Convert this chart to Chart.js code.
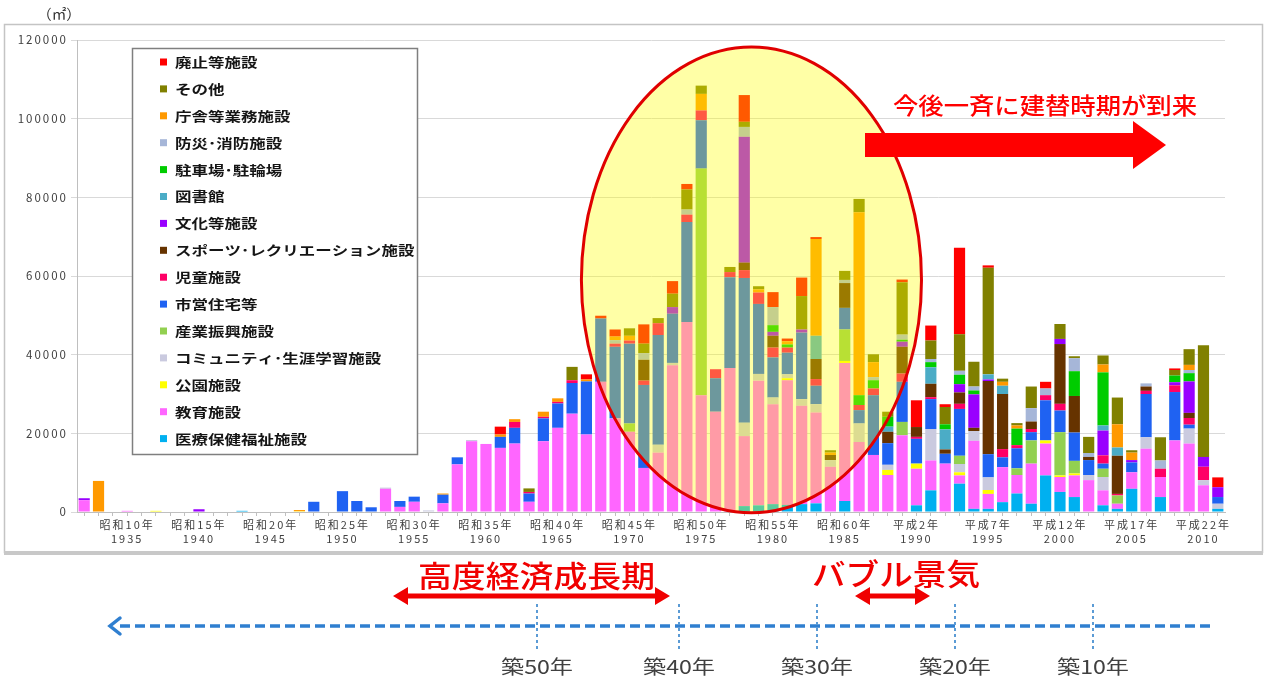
<!DOCTYPE html>
<html><head><meta charset="utf-8">
<script src="https://cdn.jsdelivr.net/npm/chart.js@4/dist/chart.umd.min.js"></script>
<style>html,body{margin:0;padding:0;background:#fff;}canvas{display:block;}</style>
</head><body>
<canvas id="c" width="1269" height="680"></canvas>
<script>
const years = [1932,1933,1934,1935,1936,1937,1938,1939,1940,1941,
1942,1943,1944,1945,1946,1947,1948,1949,1950,1951,
1952,1953,1954,1955,1956,1957,1958,1959,1960,1961,
1962,1963,1964,1965,1966,1967,1968,1969,1970,1971,
1972,1973,1974,1975,1976,1977,1978,1979,1980,1981,
1982,1983,1984,1985,1986,1987,1988,1989,1990,1991,
1992,1993,1994,1995,1996,1997,1998,1999,2000,2001,
2002,2003,2004,2005,2006,2007,2008,2009,2010,2011];
const tickYears = [1935,1940,1945,1950,1955,1960,1965,1970,1975,1980,1985,1990,1995,2000,2005,2010];
const tickEras = ['昭和10年','昭和15年','昭和20年','昭和25年','昭和30年','昭和35年','昭和40年','昭和45年','昭和50年','昭和55年','昭和60年','平成2年','平成7年','平成12年','平成17年','平成22年'];
const yTicks = [0,20000,40000,60000,80000,100000,120000];

const iryo = [0,0,0,0,0,0,0,0,0,0, 0,300,0,0,0,0,0,0,0,0, 0,0,0,0,0,0,0,0,0,0, 0,0,0,0,0,0,0,0,0,0,
 0,0,0,0,0,0,1500,1700,2000,1800, 2000,2200,0,2800,0,0,0,0,1700,5500, 0,7200,800,800,2500,4700,2100,9300,5100,3800, 0,1700,800,5900,0,3800,0,0,0,800];
const kyoiku = [3000,0,0,300,0,0,0,0,0,0, 0,0,0,0,0,0,0,0,0,0, 0,5900,1300,2600,0,2200,12100,18000,17300,16300,
 17400,2600,18000,21400,25000,19700,33100,23800,20400,11200, 15100,37300,48300,29700,25500,36600,17800,31700,25400,31700,
 25000,23100,11500,35100,17800,14500,9400,19500,9300,7600, 12300,2100,17300,3800,8900,4700,10200,8100,3800,5500,
 8100,3800,1300,4200,16100,5100,18200,17400,6800,0];
const koen = [0,0,0,0,0,300,0,0,0,0, 0,0,0,0,0,200,0,0,0,0, 0,0,0,0,0,0,0,0,0,0, 0,0,0,0,0,0,0,0,0,0,
 0,0,0,0,0,0,0,0,0,500, 0,0,0,500,0,0,1300,0,1300,0, 0,800,0,1000,0,0,0,800,400,500, 0,0,0,0,0,0,0,0,0,0];
const community = [0,0,0,0,0,0,0,0,0,0, 0,0,0,0,0,0,0,0,0,0, 0,300,0,0,400,0,0,300,0,0, 0,0,0,0,0,0,0,0,0,0,
 2000,600,0,0,0,0,3400,1700,1700,1000, 1700,2100,1700,0,4700,0,1300,0,0,8000, 0,2100,2500,3200,0,0,0,0,0,0,
 1300,3400,0,0,2900,0,0,3800,1300,1300];
const sangyo = [0,0,0,0,0,0,0,0,0,0, 0,0,0,0,0,0,0,0,0,0, 0,0,0,0,0,0,0,0,0,0, 0,0,0,0,0,0,0,0,2100,0,
 0,0,0,57600,0,0,0,0,0,0, 0,0,0,8000,0,0,0,3400,0,0, 0,2100,0,0,0,1700,5900,0,11000,3200, 0,2100,2100,0,0,0,0,0,0,0];
const shiei = [0,0,0,0,0,0,0,0,0,0, 0,0,0,0,0,0,2600,0,5300,2800, 1200,0,1500,1300,0,2200,1800,0,0,2800,
 4000,2100,5800,6200,7800,13500,16100,18200,20300,21100, 27900,12500,25400,12300,8500,23100,36800,17800,10200,5500,
 16900,4700,0,5500,3400,15200,5500,10200,6300,7600, 2500,11900,0,5900,2500,5100,2100,10200,5500,7200,
 3800,1300,0,2500,11000,0,12300,1000,0,1700];
const jido = [0,0,0,0,0,0,0,0,0,0, 0,0,0,0,0,0,0,0,0,0, 0,0,0,0,0,0,0,0,0,0,
 1500,400,400,400,700,0,0,800,800,1100, 3000,0,1900,2500,2300,1300,2000,2900,2500,1300,
 0,1700,0,0,1300,1700,0,2100,500,500, 0,1300,0,0,2100,800,800,1300,1700,0, 0,2100,400,0,800,2100,1700,1700,3400,0];
const sports = [0,0,0,0,0,0,0,0,0,0, 0,0,0,0,0,0,0,0,0,0, 0,0,0,0,0,0,0,0,0,0,
 0,0,0,0,0,0,0,0,0,5300, 0,0,0,0,0,0,1900,0,3000,0, 0,5100,1300,6300,0,0,2900,6800,2500,3400,
 1100,2900,800,18600,14000,0,1900,0,15200,9300, 800,0,9700,0,1100,0,0,1300,0,0];
const bunka = [500,0,0,0,0,0,0,0,700,0, 0,0,0,0,0,0,0,0,0,0, 0,0,0,0,0,0,0,0,0,0, 0,0,0,0,0,0,0,0,0,0,
 0,1700,0,0,0,0,32000,0,1000,0, 800,0,0,0,0,0,0,1300,0,0, 0,2100,8500,400,0,0,0,0,1300,0, 0,6300,0,600,0,0,800,8000,2500,2500];
const tosho = [0,0,0,0,0,0,0,0,0,0, 0,0,0,0,0,0,0,0,0,0, 0,0,0,0,0,0,0,0,0,0, 0,0,0,0,0,0,0,0,0,0,
 0,0,0,0,0,0,0,0,0,0, 0,5900,0,0,0,0,1300,0,0,4200, 5100,0,0,1300,2100,0,0,0,0,0, 0,1300,2100,0,0,0,0,0,0,0];
const chusha = [0,0,0,0,0,0,0,0,0,0, 0,0,0,0,0,0,0,0,0,0, 0,0,0,0,0,0,0,0,0,0, 0,0,0,0,0,0,0,0,0,0,
 0,0,0,0,0,0,0,0,1700,800, 0,0,0,0,2500,2100,2500,500,0,1300, 1300,2400,1000,0,0,4200,0,0,0,6300, 0,13500,0,0,0,0,1700,2100,0,0];
const bosai = [0,0,0,0,0,0,0,0,0,0, 0,0,0,0,0,0,0,0,0,0, 0,0,0,0,0,0,0,0,0,0,
 0,0,0,0,0,0,0,900,0,1700, 0,0,1300,0,0,0,2500,0,4600,0, 0,0,0,800,0,800,0,1300,0,800,
 0,1000,1000,0,0,0,3400,1700,0,3300, 1000,0,0,0,800,2100,0,800,0,0];
const chosha = [0,7900,0,0,0,0,0,0,0,0, 0,0,0,0,0,300,0,0,0,0, 0,0,0,0,0,300,0,0,0,600,
 700,0,1300,900,0,500,0,900,1200,0, 0,0,0,4200,0,0,0,800,0,800, 0,24600,600,0,46500,3800,0,0,0,0,
 0,0,0,0,1000,800,0,0,0,0, 0,2000,5900,1900,0,0,0,1300,0,0];
const sonota = [0,0,0,0,0,0,0,0,0,0, 0,0,0,0,0,0,0,0,0,0, 0,0,0,0,0,0,0,0,0,0,
 0,900,0,0,3400,0,0,0,1900,2400, 1300,3400,5100,2100,0,1300,1300,800,0,0, 8500,0,600,2300,3400,2000,1300,13300,0,4700,
 4400,9300,6300,27100,800,600,5500,0,3800,500, 4100,2300,6800,600,0,5900,1400,4000,28400,0];
const haishi = [0,0,0,0,0,0,0,0,0,0, 0,0,0,0,0,0,0,0,0,0, 0,0,0,0,0,0,0,0,0,2000,
 0,0,0,0,0,1300,700,1800,0,4900, 0,3200,1400,0,0,0,6800,0,3800,700, 4700,500,0,0,0,0,0,700,6800,3800,
 700,22000,0,600,0,0,0,1700,0,0, 0,0,0,0,0,0,400,0,0,2500];

const seriesNames = ['医療保健福祉施設','教育施設','公園施設','コミュニティ･生涯学習施設','産業振興施設','市営住宅等','児童施設','スポーツ･レクリエーション施設','文化等施設','図書館','駐車場･駐輪場','防災･消防施設','庁舎等業務施設','その他','廃止等施設'];
const seriesData = [iryo,kyoiku,koen,community,sangyo,shiei,jido,sports,bunka,tosho,chusha,bosai,chosha,sonota,haishi];
const seriesColors = ['#00B0F0','#FF66FF','#FFFF00','#CACADF','#92D050','#1F62F2','#FF0066','#663300','#9900FF','#4BACC6','#00CC00','#A6B6D8','#FF9900','#808000','#FF0000'];

const CJK = '"Noto Sans CJK JP","Noto Sans",sans-serif';

function stretchText(ctx, str, x, y, size, color, weight, scaleX, align){
  ctx.save();
  ctx.font = (weight||400)+' '+size+'px '+CJK;
  ctx.fillStyle = color;
  ctx.textBaseline = 'middle';
  ctx.textAlign = align || 'left';
  ctx.translate(x, y);
  ctx.scale(scaleX, 1);
  ctx.fillText(str, 0, 0);
  ctx.restore();
}
function fitText(ctx, str, x, y, size, color, weight, width, align){
  ctx.save();
  ctx.font = (weight||400)+' '+size+'px '+CJK;
  const w = ctx.measureText(str).width;
  ctx.restore();
  stretchText(ctx, str, x, y, size, color, weight, width / w, align);
}
function doubleArrow(ctx, x1, x2, y, thick, hl, hh, color){
  ctx.save();
  ctx.fillStyle = color;
  ctx.beginPath();
  ctx.moveTo(x1, y);
  ctx.lineTo(x1+hl, y-hh); ctx.lineTo(x1+hl, y-thick/2);
  ctx.lineTo(x2-hl, y-thick/2); ctx.lineTo(x2-hl, y-hh);
  ctx.lineTo(x2, y);
  ctx.lineTo(x2-hl, y+hh); ctx.lineTo(x2-hl, y+thick/2);
  ctx.lineTo(x1+hl, y+thick/2); ctx.lineTo(x1+hl, y+hh);
  ctx.closePath(); ctx.fill();
  ctx.restore();
}

const decor = {
  id: 'decor',
  beforeDraw(chart){
    const c = chart.ctx;
    c.save();
    c.fillStyle = '#fff'; c.fillRect(0,0,chart.width,chart.height);
    c.strokeStyle = '#C4C4C4'; c.lineWidth = 1.5;
    c.strokeRect(4.5, 24.5, 1258, 528);
    c.fillStyle = '#C8C8C8'; c.fillRect(4, 551, 1259, 4);
    c.restore();
    c.letterSpacing = '2px';
  },
  beforeDatasetsDraw(chart){ chart.ctx.letterSpacing = '0px'; },
  afterDatasetsDraw(chart){
    const c = chart.ctx, xs = chart.scales.x, ys = chart.scales.y;
    const cx = xs.getPixelForValue(46.5);
    const rx = (xs.getPixelForValue(1) - xs.getPixelForValue(0)) * 11.85;
    const cy = ys.getPixelForValue(59000);
    const ry = ys.getPixelForValue(0) - ys.getPixelForValue(59200);
    c.save();
    c.beginPath();
    c.ellipse(cx, cy, rx, ry, 0, 0, Math.PI*2);
    c.fillStyle = 'rgba(255,255,0,0.35)';
    c.fill();
    c.lineWidth = 3; c.strokeStyle = '#E00000';
    c.stroke();
    c.restore();
  },
  afterDraw(chart){
    const c = chart.ctx;
    c.letterSpacing = '0px';
    fitText(c, '（㎡）', 59, 14, 14, '#333', 400, 44, 'center');
    c.save();
    c.fillStyle = '#fff'; c.fillRect(132, 48, 286, 407);
    c.strokeStyle = '#7F7F7F'; c.lineWidth = 1.5; c.strokeRect(132.5, 48.5, 285, 406);
    c.restore();
    const ds = chart.data.datasets;
    for (let i = 0; i < ds.length; i++){
      const d = ds[ds.length-1-i];
      const y = 62 + i*26.9;
      c.fillStyle = d.backgroundColor;
      c.fillRect(160, y-3.5, 7, 7);
      stretchText(c, d.label, 175, y, 13, '#151515', 600, 1.27, 'left');
    }
    c.save();
    c.fillStyle = '#FF0000';
    c.beginPath();
    c.moveTo(865,133); c.lineTo(1133,133); c.lineTo(1133,121); c.lineTo(1166,145);
    c.lineTo(1133,169); c.lineTo(1133,157); c.lineTo(865,157); c.closePath(); c.fill();
    c.restore();
    fitText(c, '今後一斉に建替時期が到来', 893, 105, 23, '#FF0000', 500, 304, 'left');
    fitText(c, '高度経済成長期', 418, 576, 30, '#F00000', 500, 237, 'left');
    fitText(c, 'バブル景気', 812, 574, 30, '#F00000', 500, 168, 'left');
    doubleArrow(c, 393, 670, 596, 5, 15, 9, '#F00000');
    doubleArrow(c, 855, 930, 596, 5, 15, 9, '#F00000');
    c.save();
    c.strokeStyle = '#2F7FD0'; c.lineWidth = 3.5;
    c.setLineDash([10,5]);
    c.beginPath(); c.moveTo(120, 626); c.lineTo(1215, 626); c.stroke();
    c.setLineDash([]);
    c.lineCap = 'round';
    c.beginPath(); c.moveTo(120, 618); c.lineTo(110, 626); c.lineTo(120, 634); c.stroke();
    c.strokeStyle = '#5B9BD5'; c.lineWidth = 2; c.lineCap = 'butt';
    c.setLineDash([3,3]);
    const marks = [[537,'築50年'],[679,'築40年'],[817,'築30年'],[955,'築20年'],[1093,'築10年']];
    marks.forEach(m => { c.beginPath(); c.moveTo(m[0], 604); c.lineTo(m[0], 650); c.stroke(); });
    c.restore();
    marks.forEach(m => fitText(c, m[1], m[0], 667, 19, '#404040', 400, 72, 'center'));
  }
};

new Chart(document.getElementById('c'), {
  type: 'bar',
  data: {
    labels: years,
    datasets: seriesNames.map((n, i) => ({
      label: n, data: seriesData[i], backgroundColor: seriesColors[i],
      borderWidth: 0, barPercentage: 0.78, categoryPercentage: 1.0
    }))
  },
  options: {
    responsive: false, animation: false,
    layout: { padding: { left: 0, right: 44, top: 40, bottom: 123 } },
    plugins: { legend: { display: false }, tooltip: { enabled: false } },
    scales: {
      x: {
        stacked: true, offset: true,
        grid: { display: true, drawOnChartArea: false, tickLength: 4, offset: false, color: '#BFBFBF' },
        border: { display: true, color: '#BFBFBF' },
        ticks: {
          autoSkip: false, maxRotation: 0, minRotation: 0, padding: 1, color: '#404040',
          font: { family: CJK, size: 11, lineHeight: 1.35 },
          callback: (v, i) => { const k = tickYears.indexOf(years[i]); return k < 0 ? '' : [tickEras[k], String(years[i])]; }
        },
        afterFit: s => { s.height = 45; }
      },
      y: {
        stacked: true, min: 0, max: 120000,
        afterBuildTicks: s => { s.ticks = yTicks.map(v => ({ value: v })); },
        ticks: { color: '#404040', padding: 3, font: { family: CJK, size: 11.5 }, callback: v => String(v) },
        grid: { color: '#D9D9D9', tickLength: 6 },
        border: { display: true, color: '#BFBFBF' },
        afterFit: s => { s.width = 77; }
      }
    }
  },
  plugins: [decor]
});
</script>
</body></html>
